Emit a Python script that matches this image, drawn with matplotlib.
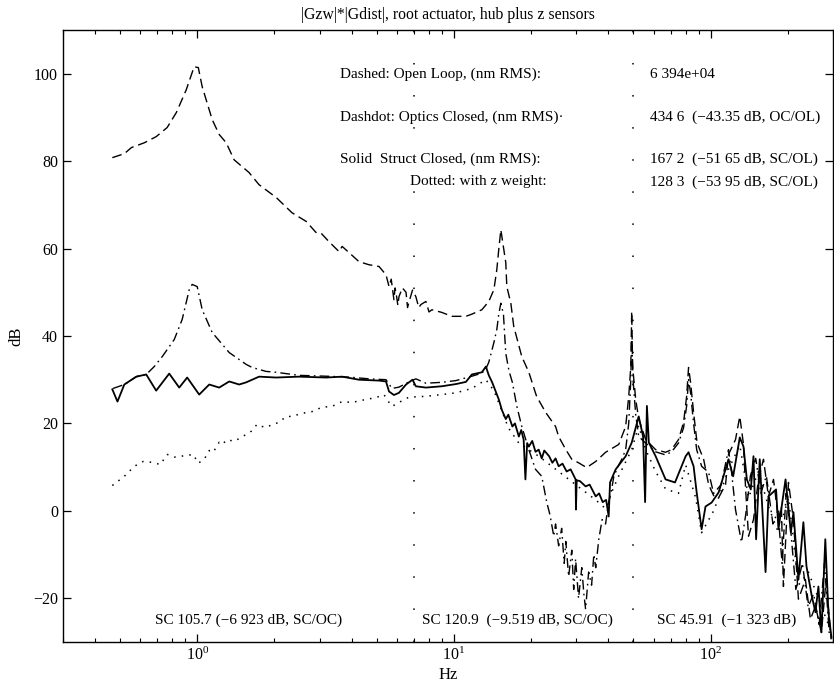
import matplotlib
matplotlib.use("Agg")
import matplotlib.pyplot as plt

plt.rcParams['font.family'] = ['Liberation Serif', 'DejaVu Serif']
plt.rcParams['mathtext.fontset'] = 'stix'

# ---------------- data (Hz, dB) ----------------
ol_f = [0.467, 0.52, 0.554, 0.622, 0.692, 0.764, 0.829, 0.906, 0.973, 1.01, 1.046, 1.144, 1.218,
        1.297, 1.393, 1.592, 1.742, 2.03, 2.34, 2.66, 2.90, 3.04, 3.26, 3.57, 3.67, 3.90, 4.27,
        4.67, 5.11, 5.44, 5.59, 5.70, 5.84, 5.90, 5.95, 6.05, 6.11, 6.30, 6.51, 6.60, 6.68, 6.90,
        7.11, 7.30, 7.44, 7.78, 8.00, 8.21, 8.97, 9.82,
        11.14, 11.75, 12.85, 13.68, 14.32, 14.70, 14.96, 15.24, 15.93, 16.08, 16.67, 17.11, 18.39,
        19.59, 21.0, 22.8, 24.9, 25.6, 27.3, 28.8, 30.6, 32.9, 35.7, 39.0, 43.9, 46.7, 48.0, 48.9,
        49.3, 49.7, 51.1, 52.5, 55.9, 61.1, 66.8, 70.5, 75.0, 78.5, 80.7, 82.1, 83.6, 85.9, 88.3,
        89.8, 94.0, 98.3, 102.8, 107.5, 114.4, 117.5, 125.1, 130.0, 134.4, 137.0, 140.6, 147.0,
        153.7, 160.8, 168.1, 175.9, 183.9, 188.8, 192.3, 201.2, 210.4, 220.0, 234.2, 245.0,
        256.3, 270.4, 282.0, 295.0]
ol_db = [80.8, 81.7, 83.1, 84.2, 85.6, 87.7, 91.1, 96.3, 101.6, 101.4, 97.0, 89.5, 86.1,
         84.2, 80.3, 77.4, 74.6, 71.7, 68.2, 66.2, 63.7, 63.5, 61.6, 59.3, 60.5, 59.1, 57.0,
         56.3, 55.9, 54.0, 51.3, 53.0, 48.3, 51.0, 50.0, 47.0, 49.0, 51.0, 50.0, 46.5, 47.7, 50.5,
         49.0, 46.5, 47.2, 47.9, 45.5, 46.0, 45.4, 44.5,
         44.5, 45.0, 46.0, 47.9, 50.6, 55.2, 59.8, 64.3, 56.8, 51.3, 47.5, 42.2, 35.3,
         31.7, 26.2, 22.5, 19.3, 17.0, 14.0, 11.8, 11.0, 9.9, 11.3, 13.4, 15.2, 19.3, 26.2, 33.0,
         45.6, 33.0, 25.5, 21.0, 16.3, 14.0, 13.4, 14.0, 16.3, 20.2, 26.2, 32.8, 29.4, 22.5, 16.3,
         14.7, 11.8, 6.0, 3.5, 3.0, 6.0, 12.9, 16.3, 21.6, 15.2, 4.9, -5.8, -2.0,
         7.2, 11.8, 3.3, 7.2, -2.0, 1.0, -17.3, 6.5, -2.0, -20.2, -15.7, -24.8,
         -21.8, -27.8, -15.7, -29.4]

oc_f = [0.47, 0.52, 0.579, 0.633, 0.68, 0.731, 0.814, 0.874, 0.931, 0.956, 1.0, 1.046, 1.144,
        1.333, 1.552, 1.637, 1.855, 2.03, 2.49, 3.18, 3.9, 4.67, 5.44, 5.74, 6.11, 6.68, 7.11,
        7.78, 8.97, 10.18, 11.75, 12.85, 13.33, 13.68, 14.32, 14.7, 14.96, 15.24, 15.6, 15.93,
        16.4, 16.9, 17.58, 18.39, 19.59, 20.8, 22.0, 23.0, 23.7, 24.5, 24.9, 25.6, 26.3, 26.9,
        27.3, 28.0, 28.8, 29.3, 29.8, 30.6, 31.5, 32.1, 32.6, 33.5, 34.4, 35.1, 35.7, 36.7, 37.8,
        39.0, 40.1, 41.2, 42.0, 43.9, 45.1, 46.7, 48.0, 48.9, 49.3, 49.9, 51.1, 52.5, 55.9, 61.1,
        66.8, 70.5, 75.0, 78.5, 80.7, 82.1, 83.6, 85.9, 88.3, 92.3, 98.3, 102.8, 110.0, 117.5,
        120.8, 125.1, 132.0, 137.0, 143.0, 150.0, 157.0, 165.0, 175.0, 183.0, 190.0, 197.0,
        205.0, 215.0, 228.0, 240.0, 252.0, 265.0, 278.0, 290.0]
oc_db = [28.0, 28.9, 30.7, 31.2, 33.0, 35.3, 39.2, 43.8, 50.6, 51.8, 51.3, 46.0, 40.8,
         36.2, 33.5, 32.8, 31.9, 31.7, 31.0, 30.8, 30.6, 30.2, 30.0, 28.0, 28.3, 29.5, 30.2,
         29.2, 29.4, 29.8, 30.8, 31.5, 32.5, 34.0, 38.5, 41.5, 45.0, 47.5, 45.0, 36.0,
         32.0, 29.4, 24.0, 19.3, 14.0, 9.5, 7.9, 2.0, -1.0, -5.8, -3.0, -8.0, -4.0, -12.0,
         -7.0, -15.0, -9.0, -18.0, -11.0, -20.0, -13.0, -19.0, -22.5, -14.0, -17.0, -10.0, -13.0, -6.5, -2.0,
         -3.0, 2.0, 5.0, 7.9, 10.5, 11.8, 14.0, 20.0, 30.0, 40.0, 30.0, 22.0, 17.0, 15.5, 13.5,
         12.8, 13.5, 15.5, 19.0, 24.0, 30.0, 27.0, 20.0, 14.0, 10.2, 8.8, 4.0, 6.0, 14.0,
         8.8, 0.3, -7.2, -1.0, 8.0, 12.0, 4.0, 8.0, -3.0, 0.0, -12.0, 4.0,
         -4.0, -18.0, -12.0, -22.0, -19.0, -26.0, -12.0, -28.0]

sc_f = [0.467, 0.489, 0.52, 0.579, 0.633, 0.692, 0.778, 0.851, 0.914, 1.018, 1.114, 1.218,
        1.333, 1.457, 1.552, 1.742, 2.03, 2.49, 3.18, 3.67, 4.27, 5.11, 5.44, 5.59, 5.84, 6.11,
        6.51, 6.9, 7.11, 7.78, 8.97, 10.18, 11.14, 11.75, 12.85, 13.33, 13.68, 14.1, 14.96, 15.4,
        15.93, 16.3, 16.9, 17.3, 17.91, 18.3, 18.7, 19.0, 19.3, 19.59, 20.2, 20.8, 21.4, 22.0,
        22.5, 23.5, 24.2, 24.9, 25.6, 26.5, 27.5, 28.5, 29.8, 29.9, 30.1, 31.0, 32.6, 33.8,
        35.7, 36.8, 38.0, 39.2, 40.1, 40.6, 42.7, 46.7, 49.3, 52.5, 54.6, 55.6, 56.5, 57.5, 61.1,
        66.8, 72.7, 80.0, 82.1, 85.9, 88.3, 92.3, 95.6, 101.0, 107.5, 117.5, 122.5, 130.0, 134.4,
        138.5, 143.5, 147.0, 150.5, 155.5, 163.8, 168.1, 180.0, 183.9, 196.0, 205.5, 210.4, 220.0,
        230.0, 236.5, 248.0, 256.3, 263.2, 270.4, 280.0, 287.8, 296.0]
sc_db = [27.8, 25.0, 28.9, 30.7, 31.2, 27.5, 31.4, 28.2, 30.5, 26.6, 28.9, 28.2,
         29.6, 28.9, 29.4, 30.7, 30.5, 30.7, 30.5, 30.7, 30.0, 29.8, 29.6, 27.3, 26.5, 27.0,
         28.9, 30.0, 28.5, 28.2, 28.5, 29.0, 29.5, 31.2, 31.7, 33.0, 31.0, 29.4, 25.5, 23.0,
         21.0, 22.0, 19.3, 20.0, 17.0, 18.5, 16.3, 7.2, 15.5, 14.7, 16.0, 13.5, 14.0, 12.0,
         13.8, 12.5, 11.0, 12.0, 10.2, 10.8, 9.0, 9.5, 7.2, 0.3, 7.0, 6.8, 5.6, 6.0,
         3.3, 4.0, 2.0, 2.5, -1.3, 6.5, 9.5, 12.5, 15.6, 21.6, 17.0, 2.0, 24.0, 15.6, 12.5,
         7.2, 6.5, 12.5, 13.4, 10.2, 4.2, -4.2, 1.0, 1.9, 4.2, 11.8, 7.9, 16.8, 14.7,
         7.2, 4.9, 12.5, -6.5, 11.8, -14.0, 3.3, 4.9, -4.2, 7.2, -4.9, -0.3, -15.7,
         -2.6, -12.7, -19.5, -23.2, -17.3, -27.8, -6.5, -23.2, -29.0]

zw_f = [0.467, 0.52, 0.569, 0.616, 0.668, 0.718, 0.764, 0.814, 0.866, 0.965, 1.009, 1.065,
        1.114, 1.154, 1.218, 1.251, 1.308, 1.393, 1.483, 1.552, 1.623, 1.712, 1.79, 1.87, 1.96,
        2.08, 2.22, 2.34, 2.49, 2.66, 2.80, 3.06, 3.35, 3.67, 4.01, 4.55, 4.97, 5.34, 5.59, 5.74,
        6.11, 6.68, 7.78, 8.97, 10.18, 11.75, 13.33, 14.32, 15.24, 16.3, 17.91, 21.4, 25.6, 29.8,
        35.7, 39.0, 41.0, 43.9, 49.3, 52.5, 55.9, 61.1, 66.8, 75.0, 80.0, 87.5, 92.3, 102.8,
        107.5, 117.5, 130.0, 140.6, 153.7, 168.1, 183.9, 201.2, 220.0, 240.6, 263.2, 287.8, 296.0]
zw_db = [5.8, 7.9, 10.2, 11.3, 11.1, 10.6, 12.9, 12.3, 12.5, 12.9, 10.9, 11.8,
         13.8, 13.4, 15.7, 15.2, 16.3, 15.9, 16.8, 17.5, 18.2, 19.8, 19.3, 19.1, 19.8,
         20.2, 21.6, 21.6, 22.1, 22.5, 22.7, 23.7, 23.9, 25.0, 24.8, 25.5, 25.9, 26.6, 24.8, 23.9,
         24.8, 26.0, 26.2, 26.6, 27.0, 28.0, 30.0, 27.5, 23.5, 19.0, 15.5, 12.5, 9.0, 6.0,
         2.5, 0.5, 4.0, 8.0, 14.0, 19.5, 14.0, 9.0, 5.0, 4.0, 10.5, 3.0, -5.0, 0.0,
         3.0, 9.5, 15.0, 3.0, 9.0, 1.0, -5.0, 3.0, -17.0, -14.0, -20.0, -26.0, -28.0]

band_edges = [7.0, 50.0]

title = "|Gzw|*|Gdist|, root actuator, hub plus z sensors"
legend_rows = [
    ("Dashed: Open Loop, (nm RMS):", "6 394e+04"),
    ("Dashdot: Optics Closed, (nm RMS)\u00b7", "434 6  (\u221243.35 dB, OC/OL)"),
    ("Solid  Struct Closed, (nm RMS):", "167 2  (\u221251 65 dB, SC/OL)"),
    ("Dotted: with z weight:", "128 3  (\u221253 95 dB, SC/OL)"),
]
band_texts = ["SC 105.7 (\u22126 923 dB, SC/OC)",
              "SC 120.9  (\u22129.519 dB, SC/OC)",
              "SC 45.91  (\u22121 323 dB)"]

# ---------------- figure ----------------
fig = plt.figure(figsize=(8.34, 6.87), dpi=100)
ax = fig.add_axes([63/834, 45/687, 770/834, 612/687])

ax.plot(ol_f, ol_db, color='k', lw=1.0, linestyle=(0, (7, 3.5)))
ax.plot(oc_f, oc_db, color='k', lw=1.0, linestyle=(0, (7, 3, 1.2, 3)))
ax.plot(sc_f, sc_db, color='k', lw=1.3, linestyle='-')
ax.plot(zw_f, zw_db, color='k', lw=1.1, linestyle=(0, (1, 4)))

for fe in band_edges:
    ax.plot([fe, fe], [-30, 110], color='k', lw=1.1, linestyle=(0, (1, 20)))

ax.set_xscale('log')
ax.set_xlim(0.3, 300)
ax.set_ylim(-30, 110)
ax.set_yticks(list(range(-20, 101, 20)))
ax.tick_params(which='both', direction='in', top=True, right=True, labelsize=11.5)
ax.tick_params(which='major', length=6, width=0.9)
ax.tick_params(which='minor', length=3, width=0.8)
for s in ax.spines.values():
    s.set_linewidth(1.0)

ax.set_title(title, fontsize=11.3, pad=8)
ax.set_xlabel("Hz", fontsize=12, labelpad=2)
ax.set_ylabel("dB", fontsize=12, labelpad=6)

ys = [0.928, 0.858, 0.788, 0.752]
for i, (lab, val) in enumerate(legend_rows):
    xl = 0.4506 if i == 3 else 0.360
    ax.text(xl, ys[i], lab, transform=ax.transAxes, fontsize=11, va='center', ha='left')
    ax.text(0.762, ys[i], val, transform=ax.transAxes, fontsize=11, va='center', ha='left')

for x0, t in zip([0.1195, 0.466, 0.771], band_texts):
    ax.text(x0, 0.036, t, transform=ax.transAxes, fontsize=11, va='center', ha='left')

fig.savefig("out.png", dpi=100)
